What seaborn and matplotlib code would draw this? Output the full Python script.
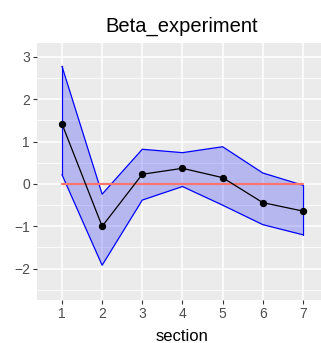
import numpy as np
import pandas as pd
import seaborn as sns
import matplotlib
matplotlib.use('Agg')
import matplotlib.pyplot as plt
from matplotlib.ticker import MultipleLocator

# values
section = [1, 2, 3, 4, 5, 6, 7]
mean = [1.42, -1.0, 0.23, 0.37, 0.15, -0.44, -0.64]
upper = [2.78, -0.24, 0.82, 0.74, 0.88, 0.26, -0.03]
lower = [0.22, -1.92, -0.38, -0.06, -0.50, -0.96, -1.20]
baseline = [0, 0, 0, 0, 0, 0, 0]
yticks = [-2, -1, 0, 1, 2, 3]

df = pd.DataFrame({'section': section, 'mean': mean, 'upper': upper,
                   'lower': lower, 'baseline': baseline})

sns.set_theme(style='darkgrid', rc={
    'axes.facecolor': '#EBEBEB',
    'grid.color': 'white',
    'axes.edgecolor': '#EBEBEB',
})
plt.rcParams['font.family'] = ['Liberation Sans', 'DejaVu Sans']

W, H = 321, 343
fig = plt.figure(figsize=(W / 100, H / 100), dpi=100)
ax = fig.add_axes([37 / W, 1 - 300 / H, (W - 37) / W, (300 - 43) / H])

ax.fill_between(df['section'], df['lower'], df['upper'],
                facecolor='#0000FF', alpha=0.22, edgecolor='none', zorder=2)
ax.plot(df['section'], df['upper'], color='#0000FF', lw=0.9, zorder=3)
ax.plot(df['section'], df['lower'], color='#0000FF', lw=0.9, zorder=3)
ax.plot([7, 7], [df['lower'].iloc[-1], df['upper'].iloc[-1]],
        color='#0000FF', lw=0.9, zorder=3)
ax.plot([1, 1], [df['lower'].iloc[0], df['upper'].iloc[0]],
        color='#0000FF', lw=0.9, zorder=3)

sns.lineplot(data=df, x='section', y='baseline', color='#F8766D', lw=1.6,
             ax=ax, zorder=4)
sns.lineplot(data=df, x='section', y='mean', color='black', lw=0.9,
             marker='o', markersize=4.5, markeredgecolor='black', ax=ax,
             zorder=5)

ax.set_xlim(0.378, 7.45)
ax.set_ylim(-2.74, 3.33)
ax.set_xticks(section)
ax.set_yticks(yticks)
ax.yaxis.set_minor_locator(MultipleLocator(0.5))
ax.grid(which='major', color='white', lw=1.1)
ax.grid(which='minor', axis='y', color='white', lw=0.6)
ax.tick_params(which='major', length=3, width=0.8, color='#333333',
               labelsize=10, labelcolor='#4D4D4D', pad=2,
               bottom=True, left=True)
ax.tick_params(which='minor', length=0)
for s in ax.spines.values():
    s.set_visible(False)
ax.set_xlabel('')
ax.set_ylabel('')

fig.text(182 / W, 1 - 32 / H, 'Beta_experiment', ha='center', va='baseline',
         fontsize=14.5, color='black')
fig.text(182 / W, 1 - 341 / H, 'section', ha='center', va='baseline',
         fontsize=12, color='black')

fig.savefig('out.png', dpi=100, facecolor='white')
